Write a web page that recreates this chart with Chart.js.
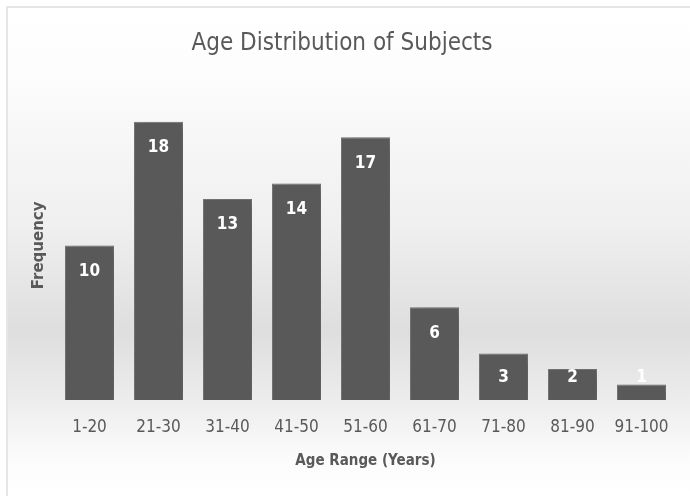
<!DOCTYPE html>
<html>
<head>
<meta charset="utf-8">
<script src="https://cdn.jsdelivr.net/npm/chart.js@4/dist/chart.umd.min.js"></script>
<style>
  html, body { margin: 0; padding: 0; background: #ffffff; overflow: hidden; }
  #wrap {
    position: absolute; left: 6px; top: 6px;
    width: 684px; height: 490px;
    border-top: 2px solid #e6e6e6; border-left: 2px solid #e6e6e6;
  }
  #wrap canvas { display: block; }
</style>
</head>
<body>
<div id="wrap"><canvas id="ageChart" width="682" height="488"></canvas></div>
<script>
// Chart data
const ageRanges = ["1-20", "21-30", "31-40", "41-50", "51-60", "61-70", "71-80", "81-90", "91-100"];
const frequencies = [10, 18, 13, 14, 17, 6, 3, 2, 1];

const chartTitle = "Age Distribution of Subjects";
const xAxisTitle = "Age Range (Years)";
const yAxisTitle = "Frequency";

const textGray = "#595959";
const barGray = "#595959";
const narrowFont = "'Liberation Sans Narrow', 'DejaVu Sans Condensed', 'Open Sans', sans-serif";

// Soft grey band behind the plot, like the Office chart style
const backgroundPlugin = {
    id: "bgGradient",
    beforeDraw(chart) {
        const { ctx, width, height } = chart;
        const g = ctx.createLinearGradient(0, 0, 0, height);
        g.addColorStop(0, "#ffffff");
        g.addColorStop(0.12, "#fdfdfd");
        g.addColorStop(0.45, "#efefef");
        g.addColorStop(0.66, "#dedede");
        g.addColorStop(0.8, "#ececec");
        g.addColorStop(0.92, "#fbfbfb");
        g.addColorStop(1, "#ffffff");
        ctx.save();
        ctx.fillStyle = g;
        ctx.fillRect(0, 0, width, height);
        ctx.restore();
    }
};

// Blurred shadow under the bars
const shadowPlugin = {
    id: "barShadow",
    beforeDatasetsDraw(chart) {
        const ctx = chart.ctx;
        ctx.save();
        ctx.shadowColor = "rgba(0, 0, 0, 0.25)";
        ctx.shadowBlur = 12;
        ctx.shadowOffsetX = 6;
        ctx.shadowOffsetY = 4;
    },
    afterDatasetsDraw(chart) {
        chart.ctx.restore();
    }
};

// White value labels near the inner end of each bar
const valueLabelPlugin = {
    id: "valueLabels",
    afterDatasetsDraw(chart) {
        const ctx = chart.ctx;
        const meta = chart.getDatasetMeta(0);
        ctx.save();
        ctx.fillStyle = "#ffffff";
        ctx.font = "bold 17px " + narrowFont;
        ctx.textAlign = "center";
        ctx.textBaseline = "middle";
        meta.data.forEach((bar, i) => {
            const y = Math.min(bar.y + 26, bar.base - 22);
            ctx.fillText(String(frequencies[i]), bar.x, y);
        });
        ctx.restore();
    }
};

const ctx = document.getElementById("ageChart").getContext("2d");
new Chart(ctx, {
    type: "bar",
    data: {
        labels: ageRanges,
        datasets: [{
            label: yAxisTitle,
            data: frequencies,
            backgroundColor: barGray,
            borderColor: "#767676",
            borderWidth: 1,
            barPercentage: 0.71,
            categoryPercentage: 1.0
        }]
    },
    options: {
        responsive: false,
        animation: false,
        layout: { padding: { left: 0, right: 14, top: 0, bottom: 0 } },
        plugins: {
            legend: { display: false },
            tooltip: { enabled: false },
            title: {
                display: true,
                text: chartTitle,
                color: textGray,
                font: { family: narrowFont, size: 24, weight: "normal" },
                padding: { top: 21, bottom: 33 }
            }
        },
        scales: {
            x: {
                grid: { display: false, drawTicks: false },
                border: { display: false },
                ticks: {
                    color: textGray,
                    font: { family: narrowFont, size: 17 },
                    padding: 17,
                    maxRotation: 0,
                    autoSkip: false
                },
                title: {
                    display: true,
                    text: xAxisTitle,
                    color: textGray,
                    font: { family: narrowFont, size: 15, weight: "bold" },
                    padding: { top: 4, bottom: 26 }
                },
                afterFit(scale) { scale.height = 96; }
            },
            y: {
                min: 0,
                max: 20,
                grid: { display: false },
                border: { display: false },
                ticks: { display: false },
                title: {
                    display: true,
                    text: yAxisTitle,
                    color: textGray,
                    font: { family: "'DejaVu Sans', sans-serif", size: 15, weight: "bold" },
                    padding: { top: 22, bottom: 0 }
                },
                afterFit(scale) { scale.width = 47; }
            }
        }
    },
    plugins: [backgroundPlugin, shadowPlugin, valueLabelPlugin]
});
</script>
</body>
</html>
